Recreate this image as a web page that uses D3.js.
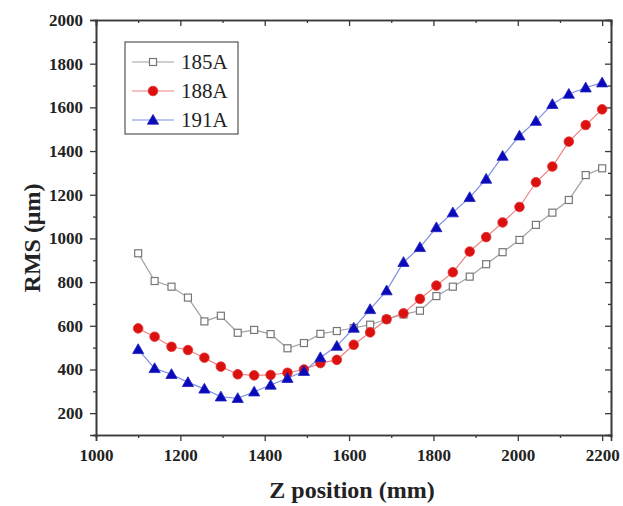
<!DOCTYPE html>
<html><head><meta charset="utf-8">
<script src="https://cdnjs.cloudflare.com/ajax/libs/d3/7.8.5/d3.min.js"></script>
<style>
html,body{margin:0;padding:0;background:#fff;}
svg{display:block;}
text{font-family:"Liberation Serif","Times New Roman",serif;}
</style></head>
<body>
<svg id="chart" width="623" height="506"></svg>
<script>
const zPos = [1100,1139,1179,1218,1257,1296,1336,1375,1414,1454,1493,1532,1571,1611,1650,1689,1729,1768,1807,1846,1886,1925,1964,2004,2043,2082,2121,2161,2200];
const rms185 = [932,805,779,729,620,646,568,581,562,497,521,563,576,590,605,630,652,669,736,779,825,882,937,993,1062,1118,1176,1290,1321];
const rms188 = [588,550,504,489,454,413,378,373,375,385,400,429,444,513,570,630,657,723,784,845,940,1006,1073,1144,1257,1329,1443,1519,1591];
const rms191 = [492,405,378,341,311,275,268,298,329,360,392,455,507,590,675,761,891,959,1050,1118,1188,1272,1377,1470,1537,1614,1661,1690,1713];
const seriesNames = ["185A","188A","191A"];
const xTicks = [1000,1200,1400,1600,1800,2000,2200];
const yTicks = [200,400,600,800,1000,1200,1400,1600,1800,2000];
const xMinor = [1100,1300,1500,1700,1900,2100];
const yMinor = [100,300,500,700,900,1100,1300,1500,1700,1900];

const svg = d3.select("#chart");
const L=96, R=611, T=20, B=435;
const x = d3.scaleLinear().domain([1000,2221]).range([L,R]);
const y = d3.scaleLinear().domain([100,2000]).range([B,T]);

const axisColor = "#3a3a3a";
function styleAxis(g){
  g.selectAll("path.domain").attr("stroke",axisColor).attr("stroke-width",1.6);
  g.selectAll(".tick line").attr("stroke",axisColor).attr("stroke-width",1.3);
  g.selectAll(".tick text").attr("font-family","'Liberation Serif',serif").attr("font-weight","bold").attr("font-size",17).attr("fill","#222");
}
// bottom
svg.append("g").attr("transform",`translate(0,${B})`).call(d3.axisBottom(x).tickValues(xMinor).tickSize(3).tickFormat("")).call(styleAxis);
svg.append("g").attr("transform",`translate(0,${B})`).call(d3.axisBottom(x).tickValues(xTicks).tickSize(6).tickPadding(8).tickFormat(d3.format("d"))).call(styleAxis);
// top
svg.append("g").attr("transform",`translate(0,${T})`).call(d3.axisTop(x).tickValues(xMinor).tickSize(-3).tickFormat("")).call(styleAxis);
svg.append("g").attr("transform",`translate(0,${T})`).call(d3.axisTop(x).tickValues(xTicks).tickSize(-6).tickFormat("")).call(styleAxis);
// left
svg.append("g").attr("transform",`translate(${L},0)`).call(d3.axisLeft(y).tickValues(yMinor).tickSize(3).tickFormat("")).call(styleAxis);
svg.append("g").attr("transform",`translate(${L},0)`).call(d3.axisLeft(y).tickValues(yTicks).tickSize(6).tickPadding(7).tickFormat(d3.format("d"))).call(styleAxis);
// right
svg.append("g").attr("transform",`translate(${R},0)`).call(d3.axisRight(y).tickValues(yMinor).tickSize(-3).tickFormat("")).call(styleAxis);
svg.append("g").attr("transform",`translate(${R},0)`).call(d3.axisRight(y).tickValues(yTicks).tickSize(-6).tickFormat("")).call(styleAxis);

// axis titles
svg.append("text").attr("x",352).attr("y",498).attr("text-anchor","middle")
  .attr("font-weight","bold").attr("font-size",24).attr("fill","#222").text("Z position (mm)");
svg.append("text").attr("transform","translate(40,238) rotate(-90)").attr("text-anchor","middle")
  .attr("font-weight","bold").attr("font-size",24).attr("fill","#222").text("RMS (μm)");

const series = [
  {name:seriesNames[0], vals:rms185, line:"#a0a0a0", shape:"square"},
  {name:seriesNames[1], vals:rms188, line:"#f08080", shape:"circle"},
  {name:seriesNames[2], vals:rms191, line:"#7f8fe8", shape:"triangle"}
];
function drawMarker(g, shape, cx, cy){
  if(shape==="square"){
    g.append("rect").attr("x",cx-3.5).attr("y",cy-3.5).attr("width",7).attr("height",7)
      .attr("fill","#fff").attr("stroke","#777").attr("stroke-width",1.2);
  } else if(shape==="circle"){
    g.append("circle").attr("cx",cx).attr("cy",cy).attr("r",4.8).attr("fill","#dd1010").attr("stroke","#e03030").attr("stroke-width",0.8);
  } else {
    const s=5.6;
    g.append("path").attr("d",`M${cx},${cy-s}L${cx+s},${cy+s*0.75}L${cx-s},${cy+s*0.75}Z`)
      .attr("fill","#0a0ab8").attr("stroke","#2020c0").attr("stroke-width",0.8);
  }
}
const line = d3.line().x((d,i)=>x(zPos[i])).y(d=>y(d));
series.forEach(s=>{
  svg.append("path").datum(s.vals).attr("d",line).attr("fill","none").attr("stroke",s.line).attr("stroke-width",1.2);
});
series.forEach(s=>{
  const g = svg.append("g");
  s.vals.forEach((v,i)=>drawMarker(g,s.shape,x(zPos[i]),y(v)));
});

// legend
const lg = svg.append("g");
lg.append("rect").attr("x",125).attr("y",42).attr("width",113).attr("height",92)
  .attr("fill","#fff").attr("stroke","#555").attr("stroke-width",1.2);
series.forEach((s,i)=>{
  const cy = 62 + i*29;
  lg.append("line").attr("x1",132).attr("x2",174).attr("y1",cy).attr("y2",cy).attr("stroke",s.line).attr("stroke-width",1.2);
  drawMarker(lg,s.shape,153,cy);
  lg.append("text").attr("x",181).attr("y",cy+7).attr("font-size",21).attr("fill","#222").text(s.name);
});
</script>
</body></html>
